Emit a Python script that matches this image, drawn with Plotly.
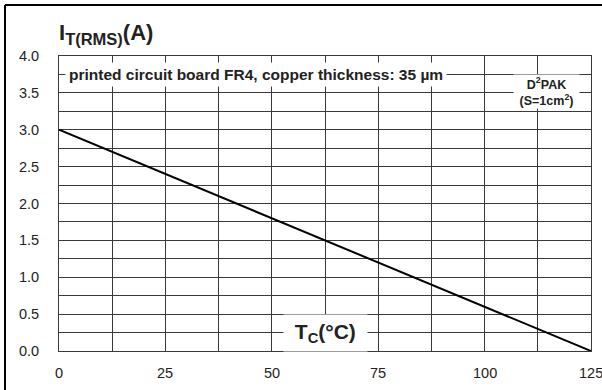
import plotly.graph_objects as go

# Derating curve: on-state RMS current vs. case temperature
case_temp_c = [0, 125]
rms_current_a = [3.0, 0.0]

x_tick_vals = [0, 25, 50, 75, 100, 125]
x_tick_text = ["0", "25", "50", "75", "100", "125"]
y_tick_vals = [0.0, 0.5, 1.0, 1.5, 2.0, 2.5, 3.0, 3.5, 4.0]
y_tick_text = ["0.0", "0.5", "1.0", "1.5", "2.0", "2.5", "3.0", "3.5", "4.0"]

GRID = "#3a3a3a"
FONT = "Liberation Sans, Arial, sans-serif"
TEXT = "#222222"

fig = go.Figure()
fig.add_trace(go.Scatter(
    x=case_temp_c, y=rms_current_a, mode="lines",
    line=dict(color="black", width=2), showlegend=False, hoverinfo="skip",
))

fig.update_layout(
    width=602, height=390,
    margin=dict(l=59, r=11, t=56, b=39),
    paper_bgcolor="white", plot_bgcolor="white",
    font=dict(family=FONT, color=TEXT, size=14.5),
    xaxis=dict(
        range=[0, 125], tickvals=x_tick_vals, ticktext=[""] * len(x_tick_vals),
        showgrid=True, gridcolor=GRID, gridwidth=1,
        minor=dict(dtick=12.5, showgrid=True, gridcolor=GRID, gridwidth=1),
        showline=True, linecolor=GRID, linewidth=1, mirror=True,
        zeroline=False, ticks="",
    ),
    yaxis=dict(
        range=[0, 4], tickvals=y_tick_vals, ticktext=y_tick_text,
        showgrid=True, gridcolor=GRID, gridwidth=1,
        minor=dict(dtick=0.25, showgrid=True, gridcolor=GRID, gridwidth=1),
        showline=True, linecolor=GRID, linewidth=1, mirror=True,
        zeroline=False, ticks="", ticklabelstandoff=16,
        tickfont=dict(size=14.5, color=TEXT),
    ),
)

# x tick labels as annotations so the last one is clipped at the page edge
for v, t in zip(x_tick_vals, x_tick_text):
    fig.add_annotation(
        x=v, xref="x", y=0, yref="paper", yshift=-22,
        xanchor="center", yanchor="middle", showarrow=False,
        text=t, font=dict(family=FONT, size=14.5, color=TEXT),
    )

# Outer frame (top and left edges)
frame = dict(color="black", width=2)
fig.add_shape(type="line", xref="paper", yref="paper",
              x0=-0.1015, x1=1.2, y0=1.1729, y1=1.1729, line=frame)
fig.add_shape(type="line", xref="paper", yref="paper",
              x0=-0.1015, x1=-0.1015, y0=-0.3, y1=1.1729, line=frame)

# Axis titles
fig.add_annotation(
    xref="paper", yref="paper", x=-0.004, y=1.075,
    xanchor="left", yanchor="middle", showarrow=False,
    text="<b>I<sub><span style='font-size:16.5px'>T(RMS)</span></sub>(A)</b>",
    font=dict(family=FONT, size=22, color=TEXT),
)
fig.add_annotation(
    x=62.5, y=0.25, xanchor="center", yanchor="middle", showarrow=False,
    text="<b>&nbsp;T<sub>C</sub>(°C)&nbsp;</b>",
    font=dict(family=FONT, size=21, color=TEXT),
    bgcolor="white", borderpad=5,
)

# Board note
fig.add_annotation(
    x=46.3, y=3.75, xanchor="center", yanchor="middle", showarrow=False,
    text="<b>printed circuit board FR4, copper thickness: 35 µm</b>",
    font=dict(family=FONT, size=15.5, color=TEXT),
    bgcolor="white", borderpad=3,
)

# Package note
fig.add_annotation(
    x=114.6, y=3.519, xanchor="center", yanchor="middle", showarrow=False,
    text="<b>D<sup>2</sup>PAK<br>(S=1cm<sup>2</sup>)</b>",
    width=65, height=33, bgcolor="white", borderpad=0,
    font=dict(family=FONT, size=12.5, color=TEXT),
)

fig.write_html("out.html")
